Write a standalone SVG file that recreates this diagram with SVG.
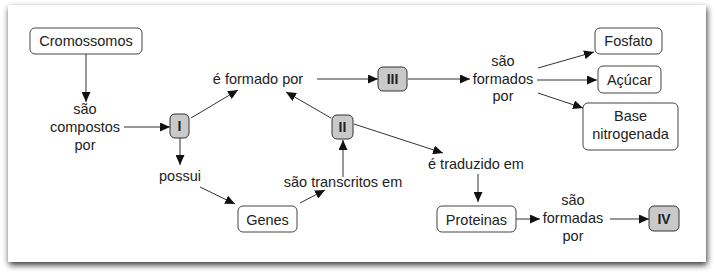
<svg xmlns="http://www.w3.org/2000/svg" width="715" height="274" viewBox="0 0 715 274">
<defs>
<filter id="sh" x="-5%" y="-5%" width="110%" height="115%">
<feGaussianBlur in="SourceAlpha" stdDeviation="3"/>
<feOffset dx="1" dy="3" result="b"/>
<feComponentTransfer><feFuncA type="linear" slope="0.8"/></feComponentTransfer>
<feMerge><feMergeNode/><feMergeNode in="SourceGraphic"/></feMerge>
</filter>
<marker id="ah" markerUnits="userSpaceOnUse" markerWidth="10" markerHeight="9" refX="10" refY="4.5" orient="auto">
<path d="M0,0 L10,4.5 L0,9 z" fill="#111"/>
</marker>
<style>
text{font-family:"Liberation Sans",Arial,sans-serif;font-size:14.5px;fill:#222;text-anchor:middle}
.b{font-weight:bold;font-size:14px}
.n rect{fill:#fff;stroke:#444;stroke-width:1}
.r rect{fill:#c9c9c9;stroke:#333;stroke-width:1}
#conn line{stroke:#333;stroke-width:1;marker-end:url(#ah)}
</style>
</defs>
<rect width="715" height="274" fill="#fff"/>
<rect x="8" y="5" width="698" height="257" fill="#fff" filter="url(#sh)"/>

<g id="conn">
<line x1="86" y1="54" x2="86" y2="102"/>
<line x1="124" y1="127" x2="170" y2="127"/>
<line x1="191" y1="118" x2="238" y2="90"/>
<line x1="317" y1="79" x2="378" y2="79"/>
<line x1="408" y1="79" x2="470" y2="79"/>
<line x1="538" y1="68" x2="594" y2="52"/>
<line x1="537" y1="80" x2="597" y2="80"/>
<line x1="538" y1="93" x2="583" y2="108"/>
<line x1="331" y1="118" x2="286" y2="92"/>
<line x1="354" y1="124" x2="443" y2="153"/>
<line x1="478" y1="174" x2="478" y2="202"/>
<line x1="516" y1="219" x2="540" y2="219"/>
<line x1="610" y1="219" x2="649" y2="219"/>
<line x1="180" y1="138" x2="180" y2="165"/>
<line x1="200" y1="187" x2="235" y2="204"/>
<line x1="300" y1="203" x2="325" y2="190"/>
<line x1="343" y1="177" x2="343" y2="140"/>
</g>

<g id="cromossomos" class="n"><rect x="30" y="28" width="112" height="26" rx="5"/><text x="86" y="46">Cromossomos</text></g>
<g id="sao-compostos-por"><text x="85" y="114">são</text><text x="85" y="132">compostos</text><text x="85" y="150">por</text></g>
<g id="node-I" class="r"><rect x="170" y="114" width="19" height="24" rx="5"/><text class="b" x="179.5" y="131">I</text></g>
<g id="e-formado-por"><text x="258" y="84">é formado por</text></g>
<g id="node-III" class="r"><rect x="378" y="67" width="29" height="24" rx="5"/><text class="b" x="392.5" y="84">III</text></g>
<g id="sao-formados-por"><text x="503" y="66">são</text><text x="503" y="84">formados</text><text x="503" y="101">por</text></g>
<g id="fosfato" class="n"><rect x="595" y="28" width="67" height="26" rx="5"/><text x="628.5" y="46">Fosfato</text></g>
<g id="acucar" class="n"><rect x="598" y="66" width="63" height="27" rx="5"/><text x="629.5" y="85">Açúcar</text></g>
<g id="base-nitrogenada" class="n"><rect x="583" y="103" width="95" height="47" rx="5"/><text x="630.5" y="121">Base</text><text x="630.5" y="139">nitrogenada</text></g>
<g id="node-II" class="r"><rect x="332" y="115" width="21" height="24" rx="5"/><text class="b" x="342.5" y="132">II</text></g>
<g id="e-traduzido-em"><text x="476" y="169">é traduzido em</text></g>
<g id="proteinas" class="n"><rect x="437" y="206" width="79" height="26" rx="5"/><text x="476.5" y="225">Proteinas</text></g>
<g id="sao-formadas-por"><text x="573" y="205">são</text><text x="573" y="223">formadas</text><text x="573" y="241">por</text></g>
<g id="node-IV" class="r"><rect x="649" y="206" width="30" height="25" rx="5"/><text class="b" x="664" y="224">IV</text></g>
<g id="possui"><text x="180" y="181">possui</text></g>
<g id="genes" class="n"><rect x="238" y="206" width="59" height="26" rx="5"/><text x="267.5" y="225">Genes</text></g>
<g id="sao-transcritos-em"><text x="343" y="187">são transcritos em</text></g>
</svg>
